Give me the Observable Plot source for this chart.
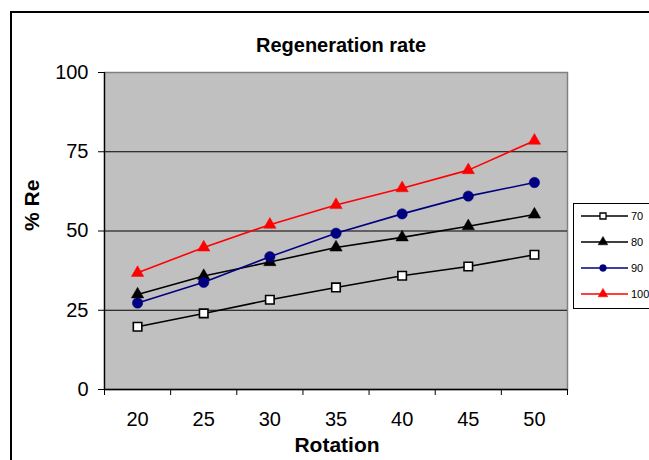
<!DOCTYPE html>
<html>
<head>
<meta charset="utf-8">
<script src="https://cdn.jsdelivr.net/npm/d3@7"></script>
<script src="https://cdn.jsdelivr.net/npm/@observablehq/plot@0.6"></script>
<style>
  html, body { margin: 0; padding: 0; background: #fff; overflow: hidden; }
  body { width: 649px; height: 460px; position: relative; font-family: "Liberation Sans", Arial, sans-serif; }
  #outer { position: absolute; left: 10px; top: 11px; width: 700px; height: 500px; border: 2px solid #000; }
  #chart { position: absolute; left: 0; top: 0; }
  #legend { position: absolute; left: 573px; top: 203px; }
</style>
</head>
<body>
<div id="outer"></div>
<div id="chart"></div>
<div id="legend"></div>
<script>
// ---- data ----
const rotation = [20, 25, 30, 35, 40, 45, 50];
const seriesNames = ["70", "80", "90", "100"];
const s70  = [19.8, 24.0, 28.3, 32.2, 35.9, 38.8, 42.5];
const s80  = [30.0, 35.8, 40.2, 44.8, 48.0, 51.5, 55.2];
const s90  = [27.3, 33.8, 41.9, 49.3, 55.4, 61.0, 65.3];
const s100 = [36.8, 44.8, 52.0, 58.2, 63.5, 69.2, 78.5];
const yTicks = [0, 25, 50, 75, 100];
const gridTicks = [25, 50, 75];
const titleText = "Regeneration rate";
const xLabel = "Rotation";
const yLabel = "% Re";

// ---- styles ----
const styles = {
  "70":  {stroke: "#000000", fill: "#ffffff", symbol: "square",   r: 4.8, lr: 3.4},
  "80":  {stroke: "#000000", fill: "#000000", symbol: "triangle", r: 4.6, lr: 3.6},
  "90":  {stroke: "#000080", fill: "#000080", symbol: "circle",   r: 5.2, lr: 3.4},
  "100": {stroke: "#ff0000", fill: "#ff0000", symbol: "triangle", r: 4.6, lr: 3.6}
};
const valuesBySeries = {"70": s70, "80": s80, "90": s90, "100": s100};

const rows = seriesNames.flatMap(s => rotation.map((x, i) => ({series: s, x, y: valuesBySeries[s][i]})));

const step = rotation[1] - rotation[0];
const xDomain = [rotation[0] - step / 2, rotation[rotation.length - 1] + step / 2];
const edges = [xDomain[0], ...rotation.map(v => v + step / 2)];

const font = "Liberation Sans, Arial, sans-serif";

const marks = [
  Plot.frame({fill: "#c0c0c0", stroke: "#808080", strokeWidth: 1.5}),
  Plot.gridY(gridTicks, {stroke: "#000", strokeOpacity: 1, strokeWidth: 1}),
  Plot.ruleY([0], {stroke: "#000", strokeWidth: 1.3}),
  Plot.ruleX([xDomain[0]], {stroke: "#000", strokeWidth: 1.3}),
  Plot.axisY({ticks: yTicks, tickSize: 6, tickPadding: 10, fontSize: 20, label: null, stroke: "#000", color: "#000"}),
  Plot.axisX({ticks: edges, tickFormat: () => "", tickSize: 6, label: null, stroke: "#000"}),
  Plot.axisX({ticks: rotation, tickSize: 0, tickPadding: 22, fontSize: 20, label: null, color: "#000"}),
];
for (const s of seriesNames) {
  const st = styles[s];
  const data = rows.filter(d => d.series === s);
  marks.push(Plot.line(data, {x: "x", y: "y", stroke: st.stroke, strokeWidth: 1.6}));
}
for (const s of seriesNames) {
  const st = styles[s];
  const data = rows.filter(d => d.series === s);
  marks.push(Plot.dot(data, {x: "x", y: "y", symbol: () => st.symbol, r: st.r, fill: st.fill,
    stroke: st.stroke, strokeWidth: s === "70" ? 1.6 : 0.5}));
}
marks.push(
  Plot.text([titleText], {frameAnchor: "top", dx: 5, dy: -27, fontSize: 20, fontWeight: "bold", fill: "#000", lineAnchor: "middle"}),
  Plot.text([xLabel], {frameAnchor: "bottom", dx: 1, dy: 56, fontSize: 21, fontWeight: "bold", fill: "#000", lineAnchor: "middle"}),
  Plot.text([yLabel], {frameAnchor: "left", dx: -72, dy: 0, rotate: -90, fontSize: 21, fontWeight: "bold", fill: "#000", lineAnchor: "middle"})
);

const chart = Plot.plot({
  width: 649,
  height: 460,
  marginLeft: 104,
  marginRight: 82,
  marginTop: 72,
  marginBottom: 71,
  style: {fontFamily: font, background: "transparent", overflow: "visible"},
  x: {type: "linear", domain: xDomain},
  y: {type: "linear", domain: [0, 100]},
  symbol: {type: "identity"},
  marks
});
document.getElementById("chart").appendChild(chart);

// ---- legend ----
const lw = 82, lh = 106;
const lsvg = d3.select("#legend").append("svg").attr("width", lw).attr("height", lh)
  .style("overflow", "visible").style("font-family", font);
lsvg.append("rect").attr("x", 0.5).attr("y", 0.5).attr("width", lw).attr("height", lh - 1)
  .attr("fill", "#fff").attr("stroke", "#000").attr("stroke-width", 1);
const ly = d3.scalePoint().domain(seriesNames).range([13, 91]);
const symMap = {square: d3.symbolSquare, triangle: d3.symbolTriangle, circle: d3.symbolCircle};
for (const s of seriesNames) {
  const st = styles[s];
  const g = lsvg.append("g").attr("transform", `translate(0,${ly(s)})`);
  g.append("line").attr("x1", 8).attr("x2", 55).attr("y1", 0).attr("y2", 0)
    .attr("stroke", st.stroke).attr("stroke-width", 1.6);
  g.append("path").attr("transform", "translate(30,0)")
    .attr("d", d3.symbol(symMap[st.symbol], st.lr * st.lr * Math.PI)())
    .attr("fill", st.fill).attr("stroke", st.stroke).attr("stroke-width", s === "70" ? 1.3 : 0.5);
  g.append("text").attr("x", 58).attr("y", 0).attr("dy", "0.35em").attr("font-size", 11)
    .attr("fill", "#000").text(s);
}
</script>
</body>
</html>
